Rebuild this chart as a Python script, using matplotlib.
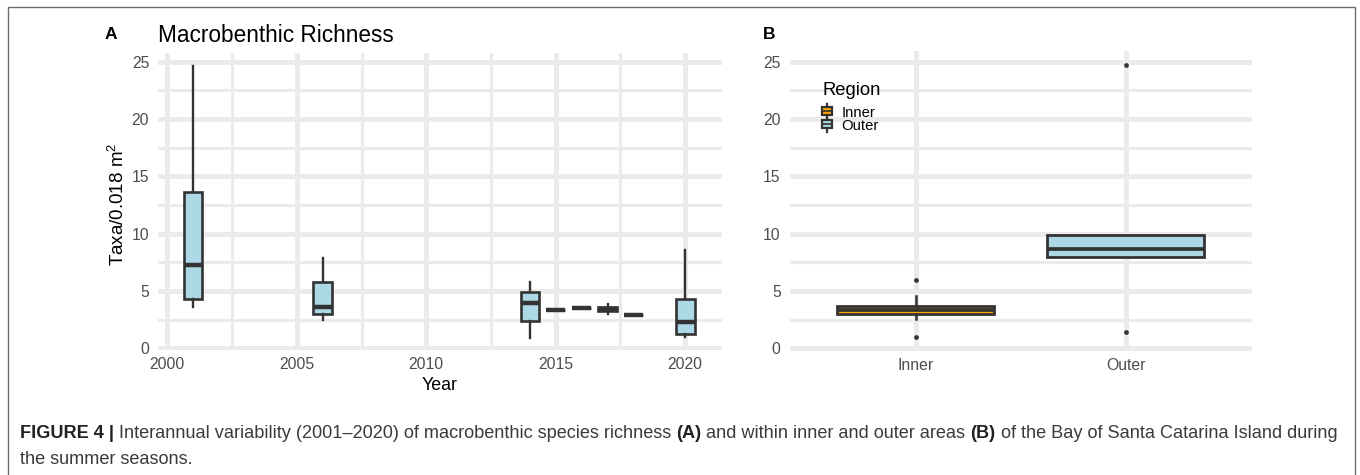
import matplotlib
matplotlib.use("Agg")
import matplotlib.pyplot as plt
from matplotlib.patches import Rectangle, Patch
from matplotlib.lines import Line2D
from matplotlib.legend_handler import HandlerBase

plt.rcParams['font.family'] = ['Liberation Sans', 'DejaVu Sans']
plt.rcParams['mathtext.fontset'] = 'custom'
plt.rcParams['mathtext.rm'] = 'Liberation Sans'
plt.rcParams['mathtext.it'] = 'Liberation Sans:italic'
plt.rcParams['mathtext.bf'] = 'Liberation Sans:bold'

# --- dados do painel A (riqueza por ano) ---
anos = [2001, 2006, 2014, 2015, 2016, 2017, 2018, 2020]
q1_a = [4.3, 2.96, 2.38, 3.3, 3.5, 3.25, 2.9, 1.25]
med_a = [7.26, 3.63, 3.92, 3.3, 3.5, 3.42, 2.9, 2.3]
q3_a = [13.6, 5.8, 4.9, 3.3, 3.5, 3.6, 2.9, 4.3]
wlo_a = [3.6, 2.47, 0.92, 3.3, 3.5, 3.0, 2.9, 0.95]
whi_a = [24.6, 7.85, 5.8, 3.3, 3.5, 3.85, 2.9, 8.57]

# --- dados do painel B (por região) ---
regioes = ["Inner", "Outer"]
q1_b = [2.96, 8.0]
med_b = [3.32, 8.63]
q3_b = [3.71, 9.88]
wlo_b = [2.53, 8.0]
whi_b = [4.59, 9.88]
fliers_b = [[5.96, 0.98], [24.7, 1.45]]
cores_b = ["#FFA500", "#ADD8E6"]

W, H = 1360, 475
EDGE = "#333333"
GRID = "#EBEBEB"
TICK = "#4D4D4D"


def fx(px):
    return px / W


def fy(py):
    return 1 - py / H


def estilo_eixo(ax):
    for s in ax.spines.values():
        s.set_visible(False)
    ax.set_facecolor("white")
    ax.set_axisbelow(True)
    ax.tick_params(which="both", length=0, labelsize=11.3, labelcolor=TICK)
    ax.tick_params(axis="y", pad=6.5)
    ax.tick_params(axis="x", pad=5)
    ax.grid(which="major", color=GRID, linewidth=3.6)
    ax.grid(which="minor", color=GRID, linewidth=2.3)


def stats(q1, med, q3, lo, hi, fl=None):
    out = []
    for i in range(len(q1)):
        out.append(dict(q1=q1[i], med=med[i], q3=q3[i], whislo=lo[i], whishi=hi[i],
                        fliers=fl[i] if fl else []))
    return out


fig = plt.figure(figsize=(W / 100, H / 100), dpi=100)

# moldura cinza da figura
fig.add_artist(Rectangle((fx(7.5), -0.05), fx(1355) - fx(7.5), fy(7.3) + 0.05,
                         transform=fig.transFigure, fill=False, edgecolor="#6e6e6e", lw=1.0))

# ---------------- painel A ----------------
axA = fig.add_axes([fx(158.2), fy(350.4), (721.5 - 158.2) / W, (350.4 - 52.6) / H])
estilo_eixo(axA)
bpA = axA.bxp(stats(q1_a, med_a, q3_a, wlo_a, whi_a), positions=anos, widths=0.72,
              patch_artist=True, showcaps=False, manage_ticks=False,
              boxprops=dict(facecolor="#ADD8E6", edgecolor=EDGE, linewidth=1.9),
              medianprops=dict(color=EDGE, linewidth=3.2, solid_capstyle="butt"),
              whiskerprops=dict(color=EDGE, linewidth=1.7))
axA.set_xlim(1999.65, 2021.4)
axA.set_ylim(-0.18, 25.78)
axA.set_xticks([2000, 2005, 2010, 2015, 2020])
axA.set_xticks([2002.5, 2007.5, 2012.5, 2017.5], minor=True)
axA.set_yticks([0, 5, 10, 15, 20, 25])
axA.set_yticks([2.5, 7.5, 12.5, 17.5, 22.5], minor=True)
axA.tick_params(which="minor", labelbottom=False, labelleft=False)

fig.text(fx(439.5), fy(386), "Year", fontsize=12.8, ha="center", va="center")
fig.text(fx(118), fy(204), r"Taxa/0.018 m$^{2}$", fontsize=13.5, rotation=90,
         ha="center", va="center")
fig.text(fx(104.5), fy(39), "A", fontsize=12.5, fontweight="bold", ha="left", va="baseline")
fig.text(fx(158), fy(41.7), "Macrobenthic Richness", fontsize=16.3, ha="left", va="baseline")

# ---------------- painel B ----------------
axB = fig.add_axes([fx(789.7), fy(350.6), (1251.7 - 789.7) / W, (350.6 - 51.3) / H])
estilo_eixo(axB)
posB = list(range(1, len(regioes) + 1))
bpB = axB.bxp(stats(q1_b, med_b, q3_b, wlo_b, whi_b, fliers_b), positions=posB, widths=0.75,
              patch_artist=True, showcaps=False, manage_ticks=False,
              boxprops=dict(edgecolor=EDGE, linewidth=2.0),
              medianprops=dict(color=EDGE, linewidth=2.7, solid_capstyle="butt"),
              whiskerprops=dict(color=EDGE, linewidth=1.8),
              flierprops=dict(marker="o", markersize=2.4, markerfacecolor=EDGE,
                              markeredgecolor=EDGE))
for caixa, cor in zip(bpB["boxes"], cores_b):
    caixa.set_facecolor(cor)
axB.set_xlim(0.4, 2.6)
axB.set_ylim(-0.2, 25.9)
axB.set_xticks(posB)
axB.set_xticklabels(regioes)
axB.set_yticks([0, 5, 10, 15, 20, 25])
axB.set_yticks([2.5, 7.5, 12.5, 17.5, 22.5], minor=True)
axB.tick_params(which="minor", labelleft=False)
axB.grid(which="minor", axis="x", visible=False)
fig.text(fx(762.5), fy(39), "B", fontsize=12.5, fontweight="bold", ha="left", va="baseline")


class HandlerCaixa(HandlerBase):
    def create_artists(self, legend, orig, xd, yd, width, height, fontsize, trans):
        cx = width / 2 - xd
        y0 = -yd
        whisk = Line2D([cx, cx], [y0 - 1.5, y0 + height + 1.5], color=EDGE, lw=1.6, transform=trans)
        box = Rectangle((-xd, y0 + height * 0.12), width, height * 0.76, facecolor=orig.get_facecolor(),
                        edgecolor=EDGE, lw=1.6, transform=trans)
        med = Line2D([-xd, width - xd], [y0 + height / 2] * 2, color=EDGE, lw=1.2, transform=trans)
        return [whisk, box, med]


# legenda "Region" (título separado para controlar o espaçamento)
fig.text(fx(822), fy(95), "Region", fontsize=13.2, ha="left", va="baseline")
handles = [Patch(facecolor=c) for c in cores_b]
leg = axB.legend(handles, regioes, loc="upper left",
                 bbox_to_anchor=(fx(821.5), fy(105.5)), bbox_transform=fig.transFigure,
                 frameon=False, fontsize=10.7, handlelength=0.7,
                 handleheight=0.7, handletextpad=0.65, labelspacing=-0.06, borderpad=0,
                 borderaxespad=0, handler_map={Patch: HandlerCaixa()})

# ---------------- legenda da figura (texto misto) ----------------
renderer = fig.canvas.get_renderer()
CAP = 13.1
cor_txt = "#3a3a3a"


def largura(s, peso):
    t = fig.text(0, 0, s, fontsize=CAP, fontweight=peso)
    w = t.get_window_extent(renderer).width
    t.remove()
    return w


esp = largura("a a", "normal") - largura("aa", "normal")


def linha(segs, x0, base):
    x = x0
    for s, peso in segs:
        t = fig.text(fx(x), fy(base), s, fontsize=CAP, fontweight=peso, ha="left",
                     va="baseline", color="#222222" if peso == "bold" else cor_txt)
        x += t.get_window_extent(renderer).width + esp


linha([("FIGURE 4 |", "bold"),
       ("Interannual variability (2001\u20132020) of macrobenthic species richness", "normal"),
       ("(A)", "bold"),
       ("and within inner and outer areas", "normal"),
       ("(B)", "bold"),
       ("of the Bay of Santa Catarina Island during", "normal")], 20, 438.5)
linha([("the summer seasons.", "normal")], 20, 464.5)

fig.savefig("out.png", dpi=100)
